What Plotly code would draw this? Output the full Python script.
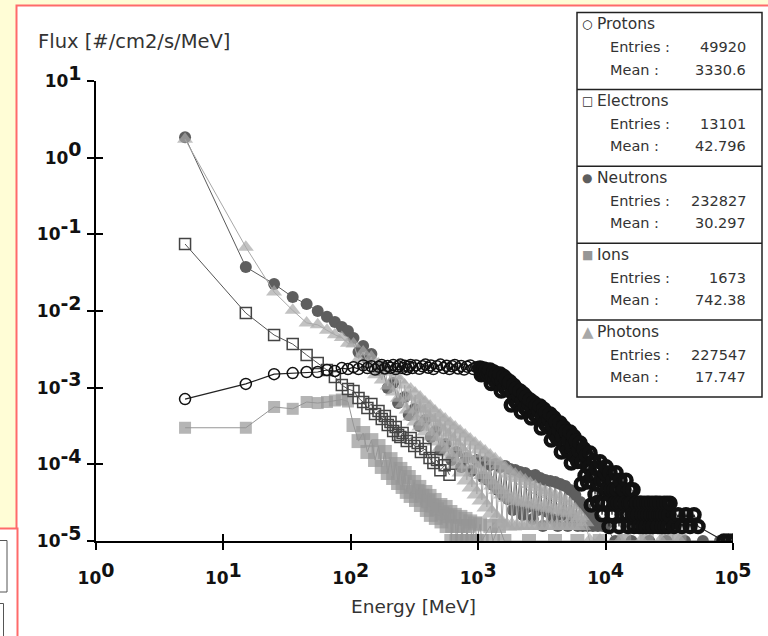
import plotly.graph_objects as go

# ---------------- data ----------------
proton_E = [5, 15, 25, 35, 45, 55, 65, 75, 85, 95,
            105, 115, 125, 135, 145, 155, 165, 175, 185, 195,
            205, 215, 225, 235, 245, 255, 265, 275, 285, 295,
            305, 325, 345, 365, 385, 405, 425, 445, 475, 505,
            535, 565, 595, 625, 655, 695, 735, 775, 815, 865,
            915, 965,
            1033, 1057, 1081, 1106, 1131, 1157, 1183, 1210,
            1238, 1266, 1295, 1325, 1355, 1386, 1418, 1450,
            1483, 1517, 1552, 1587, 1623, 1660, 1698, 1737,
            1777, 1818, 1859, 1902, 1945, 1990, 2035, 2082,
            2129, 2178, 2227, 2278, 2330, 2384, 2438, 2494,
            2551, 2609, 2669, 2730, 2792, 2856, 2921, 2988,
            3056, 3126, 3197, 3270, 3345, 3421, 3500, 3580,
            3662, 3746, 3831, 3919, 4008, 4100, 4194, 4290,
            4388, 4488, 4591, 4696, 4803, 4913, 5025, 5140,
            5257, 5377, 5500, 5626, 5754, 5886, 6020, 6158,
            6298, 6442, 6589, 6740, 6894, 7051, 7212, 7377,
            7546, 7718, 7895, 8075, 8260, 8449, 8642, 8839,
            9041, 9206, 9374, 9545, 9719, 9896, 10077, 10260, 10448, 10638,
            10832, 11029, 11231, 11435, 11644, 11856, 12073, 12293, 12517, 12745,
            12978, 13214, 13455, 13700, 13951, 14205, 14464, 14727, 14997, 15270,
            15549, 15832, 16121, 16414, 16715, 17019, 17330, 17645, 17968, 18295,
            18630, 18969, 19315, 19667, 20026, 20391, 20764, 21142, 21528, 21920,
            22321, 22727, 23143, 23564, 23995, 24432, 24878, 25331, 25794, 26264,
            26744, 27231, 27728, 28233, 28749, 29273, 29807, 30350, 30905, 31468,
            32043, 34444, 37027, 39804, 42789, 45997, 49446, 53153,
            84905, 92005, 99995]
proton_flux = [7.1e-4, 1.12e-3, 1.5e-3, 1.55e-3, 1.6e-3, 1.6e-3, 1.7e-3, 1.65e-3, 1.8e-3, 1.75e-3,
               1.85e-3, 1.75e-3, 1.95e-3, 1.8e-3, 1.9e-3, 1.72e-3, 1.88e-3, 1.98e-3, 1.78e-3, 1.92e-3,
               1.82e-3, 1.97e-3, 1.75e-3, 1.9e-3, 2.0e-3, 1.8e-3, 1.93e-3, 1.74e-3, 1.88e-3, 1.98e-3,
               1.8e-3, 1.95e-3, 1.76e-3, 1.9e-3, 2.0e-3, 1.82e-3, 1.95e-3, 1.75e-3, 1.9e-3, 2.0e-3,
               1.8e-3, 1.93e-3, 1.75e-3, 1.9e-3, 1.98e-3, 1.78e-3, 1.92e-3, 1.72e-3, 1.88e-3, 1.95e-3,
               1.75e-3, 1.85e-3,
               1.81e-3, 1.47e-3, 1.64e-3, 1.75e-3, 1.53e-3, 1.70e-3, 1.48e-3, 1.59e-3,
               1.70e-3, 1.13e-3, 1.42e-3, 1.60e-3, 1.23e-3, 1.51e-3, 1.15e-3, 1.33e-3,
               1.51e-3, 9.06e-4, 1.20e-3, 1.40e-3, 1.00e-3, 1.29e-3, 9.29e-4, 1.11e-3,
               1.19e-3, 5.94e-4, 8.69e-4, 1.07e-3, 6.82e-4, 9.64e-4, 6.15e-4, 7.83e-4,
               9.06e-4, 4.82e-4, 6.82e-4, 8.24e-4, 5.47e-4, 7.50e-4, 4.98e-4, 6.21e-4,
               6.92e-4, 4.02e-4, 5.42e-4, 6.38e-4, 4.48e-4, 5.87e-4, 4.13e-4, 4.99e-4,
               5.77e-4, 2.98e-4, 4.29e-4, 5.22e-4, 3.40e-4, 4.73e-4, 3.08e-4, 3.88e-4,
               4.54e-4, 2.07e-4, 3.19e-4, 4.04e-4, 2.43e-4, 3.59e-4, 2.16e-4, 2.84e-4,
               3.46e-4, 1.45e-4, 2.34e-4, 3.03e-4, 1.73e-4, 2.67e-4, 1.51e-4, 2.05e-4,
               2.64e-4, 1.04e-4, 1.74e-4, 2.30e-4, 1.26e-4, 2.00e-4, 1.09e-4, 1.51e-4,
               1.90e-4, 5.55e-5, 1.09e-4, 1.58e-4, 7.10e-5, 1.31e-4, 5.90e-5, 9.08e-5,
               1.41e-4, 2.95e-5, 6.97e-5, 1.11e-4, 4.04e-5, 8.81e-5, 3.19e-5, 5.51e-5,
               1.08e-4, 6.2e-5, 2.2e-5, 3.1e-5, 6.2e-5, 7.75e-5, 9.3e-5, 4.65e-5, 3.1e-5, 1.55e-5,
               7.75e-5, 4.65e-5, 2.2e-5, 6.2e-5, 4.65e-5, 3.1e-5, 7.75e-5, 4.65e-5, 3.1e-5, 1.55e-5,
               6.2e-5, 3.1e-5, 2.2e-5, 4.65e-5, 4.65e-5, 3.1e-5, 6.2e-5, 2.2e-5, 1.55e-5, 3.1e-5,
               4.65e-5, 3.1e-5, 2.2e-5, 4.65e-5, 1.55e-5, 2.2e-5, 3.1e-5, 3.1e-5, 2.2e-5, 1.55e-5,
               3.1e-5, 3.1e-5, 2.2e-5, 1.55e-5, 3.1e-5, 2.2e-5, 1.55e-5, 3.1e-5, 2.2e-5, 3.1e-5,
               1.55e-5, 2.2e-5, 3.1e-5, 1.55e-5, 2.2e-5, 3.1e-5, 2.2e-5, 3.1e-5, 1.55e-5, 2.2e-5,
               3.1e-5, 2.2e-5, 1.55e-5, 2.2e-5, 3.1e-5, 1.55e-5, 2.2e-5, 3.1e-5, 1.55e-5, 2.2e-5,
               3.1e-5, 1.55e-5, 2.2e-5, 1.55e-5, 2.2e-5, 1.55e-5, 2.2e-5, 1.55e-5,
               1e-5, 1e-5, 1e-5]

electron_E = [5, 15, 25, 35, 45, 55, 65, 75, 85, 95,
              105, 115, 125, 135, 145, 155, 165, 175, 185, 195,
              205, 215, 225, 235, 245, 255, 275, 295, 315, 335, 355,
              385, 415, 445, 475, 505, 545, 595]
electron_flux = [0.0748, 0.0094, 0.00486, 0.0037, 0.00267, 0.0021, 0.0017, 1.38e-3, 1.08e-3, 9.6e-4,
                 9.05e-4, 7.33e-4, 6.5e-4, 5.43e-4, 6.12e-4, 4.53e-4, 4.96e-4, 3.9e-4, 4.27e-4, 3.26e-4,
                 3.56e-4, 2.72e-4, 3.07e-4, 2.41e-4, 2.27e-4, 2.56e-4, 2.02e-4, 2.21e-4, 1.74e-4, 1.9e-4, 1.45e-4,
                 1.59e-4, 1.21e-4, 1.04e-4, 1.14e-4, 8.4e-5, 9.7e-5, 7.3e-5]

neutron_E = [5, 15, 25, 35, 45, 55, 65, 75, 85, 95,
             105, 115, 125, 135, 145, 165, 175, 195, 215, 235,
             265, 285, 315, 345, 385, 425, 465, 505, 555, 615,
             675, 735, 805, 885, 975,
             1036, 1085, 1134, 1187, 1241, 1299, 1359, 1423, 1488, 1558,
             1629, 1706, 1783, 1867, 1952, 2044, 2137, 2237, 2339, 2449,
             2561, 2681, 2803, 2935, 3069, 3213, 3359, 3517, 3677, 3850,
             4026, 4215, 4407, 4614, 4825, 5052, 5283, 5531, 5783, 6055,
             6331, 6629, 6930, 7256, 7587, 7943, 8305, 8695, 9092, 9519,
             9953,
             11905, 16005, 22005, 30005, 42005, 58005, 79005]
neutron_flux = [1.85, 0.0375, 0.0225, 0.0152, 0.0123, 0.0100, 0.0084, 0.0072, 0.0062, 0.0055,
                4.45e-3, 2.92e-3, 3.5e-3, 2.37e-3, 2.75e-3, 1.7e-3, 1.86e-3, 9.9e-4, 1.15e-3, 6.3e-4,
                7.55e-4, 4.4e-4, 5.27e-4, 3.16e-4, 3.79e-4, 2.27e-4, 2.72e-4, 1.54e-4, 1.84e-4, 1.14e-4,
                1.45e-4, 9.2e-5, 1.21e-4, 8.2e-5, 1.14e-4,
                1.07e-4, 6.84e-5, 1.07e-4, 6.25e-5, 9.82e-5, 5.38e-5, 1.01e-4, 4.63e-5, 9.25e-5, 3.99e-5,
                9.53e-5, 3.54e-5, 8.71e-5, 2.54e-5, 8.45e-5, 2.95e-5, 7.96e-5, 2.19e-5, 7.73e-5, 2.78e-5,
                7.06e-5, 1.94e-5, 7.28e-5, 2.54e-5, 6.64e-5, 1.57e-5, 6.25e-5, 2.39e-5, 6.07e-5, 1.94e-5,
                5.89e-5, 1.57e-5, 5.55e-5, 2.19e-5, 5.22e-5, 1.57e-5, 4.63e-5, 1.94e-5, 3.99e-5, 1.57e-5,
                3.23e-5, 1.57e-5, 2.70e-5, 1.57e-5, 2.19e-5, 1.57e-5, 1.94e-5, 1.57e-5, 1.70e-5, 1.57e-5,
                1.57e-5,
                1e-5, 1e-5, 1e-5, 1e-5, 1e-5, 1e-5, 1e-5]

ion_E = [5, 15, 25, 35, 45, 55, 65, 75, 85, 95,
         105, 115, 125, 135, 145, 155, 165, 175, 185, 195,
         205, 215, 225, 235, 245, 255, 265, 275, 285, 295,
         315, 325, 335, 345, 355, 365, 385, 395, 405, 415, 425, 435,
         455, 465, 475, 505, 515, 525, 555, 565, 575, 605, 615, 625,
         655, 675, 695, 725, 745, 765, 795, 815, 835,
         865, 895, 945, 975, 1035, 1065, 1245, 1305, 1455,
         1605, 2505, 4005, 6005, 9005, 14005, 21005, 30005, 38005]
ion_flux = [3.0e-4, 3.0e-4, 5.6e-4, 5.3e-4, 6.5e-4, 6.3e-4, 6.5e-4, 6.8e-4, 7.0e-4, 6.6e-4,
            3.26e-4, 2.01e-4, 2.56e-4, 1.45e-4, 2.07e-4, 1.14e-4, 1.73e-4, 9.25e-5, 1.45e-4, 7.71e-5,
            1.17e-4, 6.64e-5, 1.01e-4, 5.71e-5, 8.71e-5, 5.07e-5, 7.71e-5, 4.37e-5, 6.84e-5, 3.87e-5,
            5.89e-5, 3.43e-5, 4.5e-5, 5.07e-5, 2.95e-5, 3.9e-5, 4.36e-5, 2.54e-5, 3.3e-5, 3.87e-5, 2.19e-5, 2.9e-5,
            3.43e-5, 2.0e-5, 2.6e-5, 2.95e-5, 1.8e-5, 2.3e-5, 2.78e-5, 1.57e-5, 2.1e-5, 2.39e-5, 1e-5, 1.57e-5,
            2.19e-5, 1e-5, 1.57e-5, 2.06e-5, 1e-5, 1.57e-5, 1.94e-5, 1e-5, 1.57e-5,
            1.8e-5, 1e-5, 1.7e-5, 1e-5, 1.65e-5, 1e-5, 1.57e-5, 1e-5, 1.57e-5,
            1e-5, 1e-5, 1e-5, 1e-5, 1e-5, 1e-5, 1e-5, 1e-5, 1e-5]

photon_E = [5, 15, 25, 35, 45, 55, 65, 75, 85, 95,
            105, 115, 125, 135, 145, 155, 165, 175, 185, 195,
            205, 215, 225, 235, 245, 255, 265, 275, 285, 295,
            305,
            320, 329, 339, 350, 360, 372, 383, 395, 407, 419, 432, 445,
            459, 473, 487, 502, 518, 534, 550, 567, 584, 602, 620, 639,
            659, 679, 700, 721, 743, 766, 790, 814, 839, 865, 891, 918,
            946, 975, 1005, 1036, 1068, 1100, 1134, 1169, 1204, 1241, 1279, 1318,
            1359, 1400, 1443, 1488, 1533, 1580, 1629, 1679, 1730, 1783, 1838, 1894,
            1952, 2012, 2073, 2137, 2202, 2270, 2339, 2411, 2484, 2561, 2639, 2720,
            2803, 2889, 2977, 3069, 3163, 3260, 3359, 3462, 3568, 3677, 3790, 3905,
            4026, 4149, 4276, 4407, 4542, 4681, 4825, 4972, 5125, 5283, 5444, 5611,
            5783, 5960, 6143, 6331, 6525, 6930,
            7505, 9035, 13005, 19005, 27005, 38005]
photon_flux = [1.74, 0.068, 0.0177, 0.0102, 0.007, 0.0066, 5.6e-3, 4.9e-3, 4.5e-3, 3.8e-3,
               3.72e-3, 2.37e-3, 2.92e-3, 1.98e-3, 2.51e-3, 1.47e-3, 2.04e-3, 1.26e-3, 1.81e-3, 1.05e-3,
               1.6e-3, 8.8e-4, 1.42e-3, 7.3e-4, 1.26e-3, 6.1e-4, 1.08e-3, 5.1e-4, 7.5e-4, 9.6e-4,
               4.27e-4,
               8.04e-4, 3.67e-4, 5.43e-4, 7.11e-4, 3.16e-4, 4.74e-4, 6.12e-4, 2.72e-4, 4.08e-4,
               5.43e-4, 2.34e-4, 3.56e-4,
               4.68e-4, 2.01e-4, 3.07e-4, 4.15e-4, 1.68e-4, 2.64e-4, 3.67e-4, 1.45e-4, 2.31e-4,
               3.26e-4, 1.25e-4, 2.01e-4,
               2.89e-4, 1.01e-4, 1.71e-4, 2.56e-4, 7.94e-5, 1.43e-4, 2.28e-4, 6.25e-5, 1.19e-4,
               2.01e-4, 5.06e-5, 1.01e-4,
               1.79e-4, 4.10e-5, 8.55e-5, 1.58e-4, 3.43e-5, 7.36e-5, 1.41e-4, 2.78e-5, 6.25e-5,
               1.25e-4, 2.32e-5, 5.38e-5,
               1.11e-4, 2.0e-5, 4.70e-5, 9.82e-5, 1.72e-5, 4.11e-5, 8.71e-5, 1.57e-5, 3.72e-5,
               7.71e-5, 1.57e-5, 3.5e-5,
               7.05e-5, 1.57e-5, 3.3e-5, 6.64e-5, 1.57e-5, 3.2e-5, 6.07e-5, 1.57e-5, 3.1e-5,
               5.55e-5, 1.57e-5, 3.0e-5,
               5.07e-5, 1.57e-5, 2.9e-5, 4.63e-5, 1.57e-5, 2.8e-5, 4.37e-5, 1.57e-5, 2.7e-5,
               4.11e-5, 1.57e-5, 2.6e-5,
               3.87e-5, 1.57e-5, 2.5e-5, 3.64e-5, 1.57e-5, 2.4e-5, 3.33e-5, 1.57e-5, 2.3e-5,
               2.95e-5, 1.57e-5, 2.1e-5,
               2.54e-5, 1.57e-5, 2.0e-5, 2.12e-5, 1.57e-5, 1.75e-5,
               1e-5, 1e-5, 1e-5, 1e-5, 1e-5, 1e-5]

legend_names = ["Protons", "Electrons", "Neutrons", "Ions", "Photons"]
legend_symbols = ["○", "□", "●", "■", "▲"]
legend_symbol_colors = ["#111111", "#333333", "#5e5e5e", "#969696", "#a8a8a8"]
legend_entries = ["49920", "13101", "232827", "1673", "227547"]
legend_means = ["3330.6", "42.796", "30.297", "742.38", "17.747"]

x_tickvals = [1, 10, 100, 1000, 10000, 100000]
x_exponents = ["0", "1", "2", "3", "4", "5"]
y_tickvals = [1e-5, 1e-4, 1e-3, 1e-2, 1e-1, 1, 10]
y_exponents = ["-5", "-4", "-3", "-2", "-1", "0", "1"]

SUP = "10<sup><span style=\"font-size:19px\">{}</span></sup>"
x_ticktext = [SUP.format(e) for e in x_exponents]
y_ticktext = [SUP.format(e) for e in y_exponents]

# ---------------- layout geometry ----------------
W, H = 768, 636
L, R, T, B = 96, 35, 81, 95
PW, PH = W - L - R, H - T - B


def fx(p):
    return (p - L) / PW


def fy(p):
    return 1 - (p - T) / PH


# Where thousands of entries pile up (dense high-energy region), the original
# rendering turns solid; emulate that overplotting with heavier outlines / marks.
proton_outline = [4.5 if e >= 1000 else 1.5 for e in proton_E]
photon_size = [18 if 300 <= e < 2000 else (16 if e >= 2000 else 14) for e in photon_E]
ion_size = [14 if e >= 100 else 12 for e in ion_E]

fig = go.Figure()

series = [
    (neutron_E, neutron_flux, "Neutrons", "circle", 12, "#5e5e5e", "#5e5e5e", 0, "#5a5a5a", 1),
    (ion_E, ion_flux, "Ions", "square", ion_size, "#969696", "#969696", 0, "#969696", 1),
    (photon_E, photon_flux, "Photons", "triangle-up", photon_size, "#a8a8a8", "#a8a8a8", 0, "#a8a8a8", 1),
    (electron_E, electron_flux, "Electrons", "square-open", 11, "#444444", "#444444", 1.5, "#555555", 1),
    (proton_E, proton_flux, "Protons", "circle-open", 11, "#111111", "#111111", proton_outline,
     "#222222", 1.2),
]
for xs, ys, name, sym, size, mcol, mline, mlw, lcol, lw in series:
    fig.add_trace(go.Scatter(
        x=xs, y=ys, name=name, mode="lines+markers",
        line=dict(color=lcol, width=lw),
        marker=dict(symbol=sym, size=size, color=mcol,
                    line=dict(color=mline, width=mlw)),
        showlegend=False, hoverinfo="skip"))

# empty trace to bring up the overlaid axes (inner halves of the ticks)
fig.add_trace(go.Scatter(x=[], y=[], xaxis="x2", yaxis="y2", showlegend=False,
                         hoverinfo="skip"))

shapes = []
shapes.append(dict(type="rect", xref="paper", yref="paper",
                   x0=fx(16.5), x1=fx(790), y0=fy(5.5), y1=fy(660),
                   line=dict(color="#ff6a6a", width=2), fillcolor="white", layer="below"))
shapes.append(dict(type="rect", xref="paper", yref="paper",
                   x0=fx(-20), x1=fx(17.5), y0=fy(528.5), y1=fy(660),
                   line=dict(color="#ff6a6a", width=2), fillcolor="white", layer="below"))
shapes.append(dict(type="rect", xref="paper", yref="paper",
                   x0=fx(-20), x1=fx(7), y0=fy(540.5), y1=fy(592),
                   line=dict(color="#555555", width=1), fillcolor="white", layer="below"))
shapes.append(dict(type="rect", xref="paper", yref="paper",
                   x0=fx(-20), x1=fx(3.5), y0=fy(603.5), y1=fy(660),
                   line=dict(color="#555555", width=1), fillcolor="white", layer="below"))
box_l, box_r, box_t, box_b = 577, 762, 12.5, 397
shapes.append(dict(type="rect", xref="paper", yref="paper",
                   x0=fx(box_l), x1=fx(box_r), y0=fy(box_t), y1=fy(box_b),
                   line=dict(color="#222222", width=1.5), fillcolor="white", layer="above"))
sec_h = (box_b - box_t) / 5
for i in range(1, 5):
    yy = box_t + i * sec_h
    shapes.append(dict(type="line", xref="paper", yref="paper",
                       x0=fx(box_l), x1=fx(box_r), y0=fy(yy), y1=fy(yy),
                       line=dict(color="#222222", width=1.5), layer="above"))

annotations = []
txt_font = dict(family="DejaVu Sans", size=14.5, color="#333333")
for i, nm in enumerate(legend_names):
    top = box_t + i * sec_h
    annotations.append(dict(xref="paper", yref="paper", x=fx(580), y=fy(top + 11.5),
                            text=legend_symbols[i], showarrow=False, xanchor="left",
                            yanchor="middle",
                            font=dict(family="DejaVu Sans", size=12 if i != 4 else 15,
                                      color=legend_symbol_colors[i])))
    annotations.append(dict(xref="paper", yref="paper", x=fx(595), y=fy(top + 11.5),
                            text=nm, showarrow=False, xanchor="left", yanchor="middle",
                            font=dict(family="DejaVu Sans", size=15.5, color="#333333")))
    annotations.append(dict(xref="paper", yref="paper", x=fx(608), y=fy(top + 34.5),
                            text="Entries :", showarrow=False, xanchor="left",
                            yanchor="middle", font=txt_font))
    annotations.append(dict(xref="paper", yref="paper", x=fx(748), y=fy(top + 34.5),
                            text=legend_entries[i], showarrow=False, xanchor="right",
                            yanchor="middle", font=txt_font))
    annotations.append(dict(xref="paper", yref="paper", x=fx(608), y=fy(top + 57),
                            text="Mean :", showarrow=False, xanchor="left",
                            yanchor="middle", font=txt_font))
    annotations.append(dict(xref="paper", yref="paper", x=fx(748), y=fy(top + 57),
                            text=legend_means[i], showarrow=False, xanchor="right",
                            yanchor="middle", font=txt_font))

annotations.append(dict(xref="paper", yref="paper", x=fx(36), y=fy(41),
                        text="Flux [#/cm2/s/MeV]", showarrow=False, xanchor="left",
                        yanchor="middle", font=dict(family="DejaVu Sans", size=19.5,
                                                    color="#333333")))
annotations.append(dict(xref="paper", yref="paper", x=fx(413), y=fy(606),
                        text="Energy [MeV]", showarrow=False, xanchor="center",
                        yanchor="middle", font=dict(family="DejaVu Sans", size=18.5,
                                                    color="#333333")))

tickfont = dict(family="DejaVu Sans", size=17, color="#111111", weight="bold")
axis_common = dict(type="log", showgrid=False, zeroline=False, showline=True,
                   linecolor="black", linewidth=2, tickcolor="black", tickwidth=1.5,
                   ticklen=7)

fig.update_layout(
    width=W, height=H,
    margin=dict(l=L, r=R, t=T, b=B, pad=0),
    paper_bgcolor="#fffdd6",
    plot_bgcolor="white",
    shapes=shapes,
    annotations=annotations,
    xaxis=dict(**axis_common, range=[0, 5], ticks="outside", tickvals=x_tickvals,
               ticktext=x_ticktext, tickfont=tickfont, ticklabelstandoff=14),
    yaxis=dict(**axis_common, range=[-5, 1], ticks="outside", tickvals=y_tickvals,
               ticktext=y_ticktext, tickfont=tickfont, ticklabelstandoff=2),
    xaxis2=dict(type="log", range=[0, 5], overlaying="x", anchor="y2", side="bottom",
                ticks="inside", ticklen=7, tickwidth=1.5, tickcolor="black",
                tickvals=x_tickvals, showticklabels=False, showgrid=False,
                zeroline=False, showline=False),
    yaxis2=dict(type="log", range=[-5, 1], overlaying="y", anchor="x2", side="left",
                ticks="inside", ticklen=7, tickwidth=1.5, tickcolor="black",
                tickvals=y_tickvals, showticklabels=False, showgrid=False,
                zeroline=False, showline=False),
)

fig.write_html("out.html")
